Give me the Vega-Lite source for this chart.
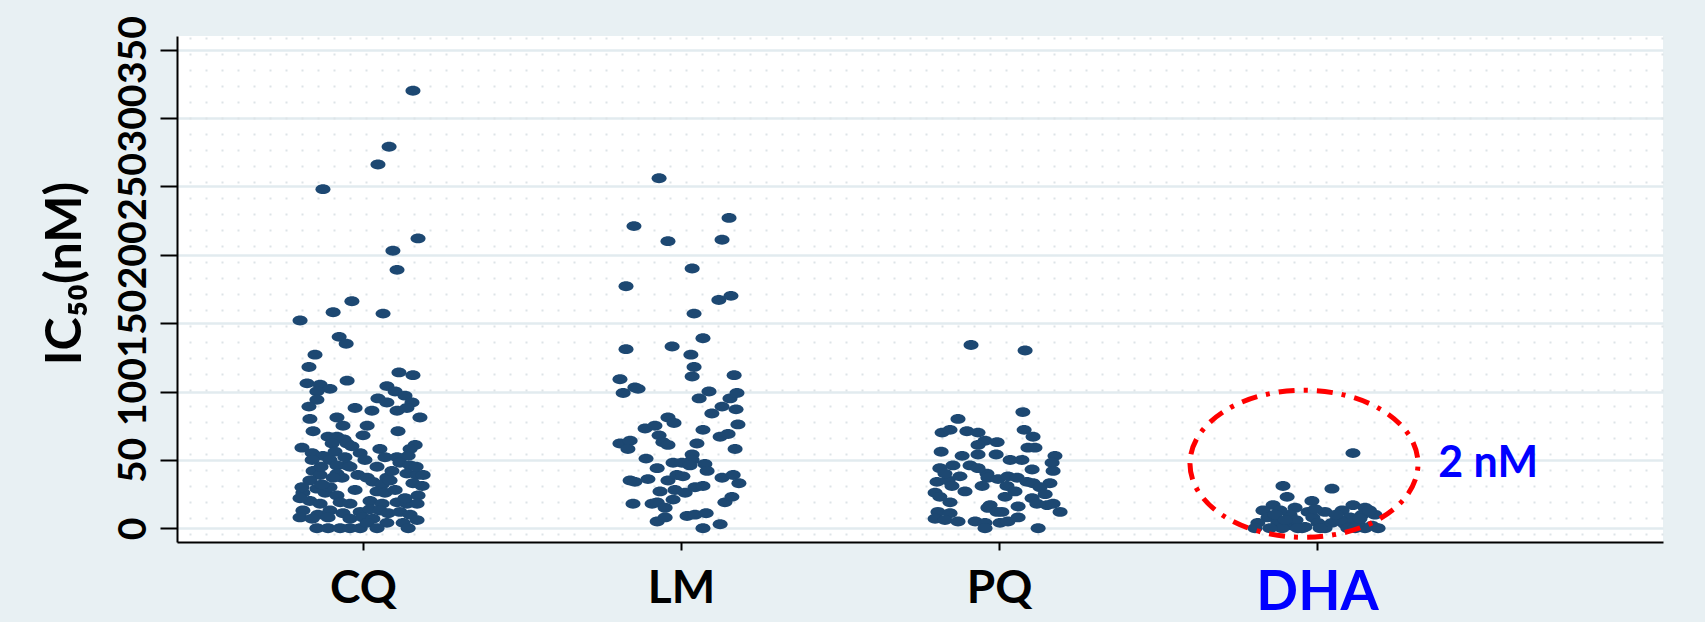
{
  "$schema": "https://vega.github.io/schema/vega-lite/v6.json",
  "width": 1486,
  "height": 506,
  "autosize": {"type": "none"},
  "padding": {"left": 177, "top": 36, "right": 42, "bottom": 80},
  "background": "#e8f0f3",
  "config": {"view": {"fill": "white", "stroke": null}, "font": "Lato"},
  "datasets": {
    "pts": [
      {"drug":"CQ","x":1.157,"ic50":320},{"drug":"CQ","x":1.082,"ic50":279},{"drug":"CQ","x":1.047,"ic50":266},{"drug":"CQ","x":0.874,"ic50":248},
      {"drug":"CQ","x":1.173,"ic50":212},{"drug":"CQ","x":1.094,"ic50":203},{"drug":"CQ","x":1.107,"ic50":189},{"drug":"CQ","x":0.965,"ic50":166},
      {"drug":"CQ","x":0.906,"ic50":158},{"drug":"CQ","x":1.063,"ic50":157},{"drug":"CQ","x":0.802,"ic50":152},{"drug":"CQ","x":0.925,"ic50":140},
      {"drug":"CQ","x":0.947,"ic50":135},{"drug":"CQ","x":0.849,"ic50":127},{"drug":"CQ","x":0.830,"ic50":118},{"drug":"CQ","x":1.157,"ic50":112},
      {"drug":"CQ","x":1.113,"ic50":114},{"drug":"CQ","x":0.950,"ic50":108},{"drug":"CQ","x":0.824,"ic50":106},{"drug":"CQ","x":0.865,"ic50":105},
      {"drug":"CQ","x":0.896,"ic50":102},{"drug":"CQ","x":1.075,"ic50":104},{"drug":"CQ","x":0.855,"ic50":100},{"drug":"CQ","x":1.101,"ic50":100},
      {"drug":"CQ","x":1.132,"ic50":97},{"drug":"CQ","x":0.855,"ic50":94},{"drug":"CQ","x":1.047,"ic50":95},{"drug":"CQ","x":1.075,"ic50":92},
      {"drug":"CQ","x":1.154,"ic50":92},{"drug":"CQ","x":0.830,"ic50":89},{"drug":"CQ","x":0.975,"ic50":88},{"drug":"CQ","x":1.028,"ic50":86},
      {"drug":"CQ","x":1.107,"ic50":86},{"drug":"CQ","x":1.138,"ic50":88},{"drug":"CQ","x":0.833,"ic50":80},{"drug":"CQ","x":0.918,"ic50":81},
      {"drug":"CQ","x":1.179,"ic50":81},{"drug":"CQ","x":0.937,"ic50":75},{"drug":"CQ","x":1.013,"ic50":75},{"drug":"CQ","x":1.000,"ic50":68},
      {"drug":"CQ","x":0.843,"ic50":71},{"drug":"CQ","x":1.110,"ic50":71},{"drug":"CQ","x":0.890,"ic50":67},{"drug":"CQ","x":0.918,"ic50":67},
      {"drug":"CQ","x":0.940,"ic50":65},{"drug":"CQ","x":0.903,"ic50":62},{"drug":"CQ","x":0.950,"ic50":62},{"drug":"CQ","x":0.808,"ic50":59},
      {"drug":"CQ","x":0.965,"ic50":60},{"drug":"CQ","x":1.053,"ic50":58},{"drug":"CQ","x":1.164,"ic50":61},{"drug":"CQ","x":1.148,"ic50":58},
      {"drug":"CQ","x":0.840,"ic50":55},{"drug":"CQ","x":0.874,"ic50":53},{"drug":"CQ","x":0.912,"ic50":56},{"drug":"CQ","x":0.991,"ic50":55},
      {"drug":"CQ","x":1.069,"ic50":52},{"drug":"CQ","x":1.107,"ic50":52},{"drug":"CQ","x":1.142,"ic50":53},{"drug":"CQ","x":0.840,"ic50":50},
      {"drug":"CQ","x":0.896,"ic50":50},{"drug":"CQ","x":0.943,"ic50":52},{"drug":"CQ","x":0.950,"ic50":46},{"drug":"CQ","x":0.918,"ic50":46},
      {"drug":"CQ","x":1.044,"ic50":45},{"drug":"CQ","x":1.116,"ic50":48},{"drug":"CQ","x":1.148,"ic50":46},{"drug":"CQ","x":0.843,"ic50":42},
      {"drug":"CQ","x":0.865,"ic50":39},{"drug":"CQ","x":0.918,"ic50":40},{"drug":"CQ","x":0.934,"ic50":37},{"drug":"CQ","x":0.984,"ic50":39},
      {"drug":"CQ","x":1.013,"ic50":37},{"drug":"CQ","x":1.075,"ic50":37},{"drug":"CQ","x":1.138,"ic50":40},{"drug":"CQ","x":1.170,"ic50":39},
      {"drug":"CQ","x":1.189,"ic50":39},{"drug":"CQ","x":0.833,"ic50":35},{"drug":"CQ","x":0.906,"ic50":37},{"drug":"CQ","x":1.031,"ic50":34},
      {"drug":"CQ","x":1.060,"ic50":32},{"drug":"CQ","x":1.085,"ic50":35},{"drug":"CQ","x":1.157,"ic50":33},{"drug":"CQ","x":1.186,"ic50":31},
      {"drug":"CQ","x":0.855,"ic50":29},{"drug":"CQ","x":0.811,"ic50":26},{"drug":"CQ","x":0.881,"ic50":26},{"drug":"CQ","x":0.918,"ic50":24},
      {"drug":"CQ","x":1.044,"ic50":27},{"drug":"CQ","x":1.069,"ic50":26},{"drug":"CQ","x":1.173,"ic50":24},{"drug":"CQ","x":0.833,"ic50":20},
      {"drug":"CQ","x":0.865,"ic50":18},{"drug":"CQ","x":0.928,"ic50":19},{"drug":"CQ","x":0.959,"ic50":18},{"drug":"CQ","x":1.022,"ic50":20},
      {"drug":"CQ","x":1.060,"ic50":18},{"drug":"CQ","x":1.107,"ic50":19},{"drug":"CQ","x":1.138,"ic50":18},{"drug":"CQ","x":1.170,"ic50":18},
      {"drug":"CQ","x":0.811,"ic50":13},{"drug":"CQ","x":0.858,"ic50":10},{"drug":"CQ","x":0.896,"ic50":13},{"drug":"CQ","x":0.937,"ic50":11},
      {"drug":"CQ","x":0.991,"ic50":12},{"drug":"CQ","x":1.022,"ic50":14},{"drug":"CQ","x":1.053,"ic50":13},{"drug":"CQ","x":1.079,"ic50":11},
      {"drug":"CQ","x":1.116,"ic50":12},{"drug":"CQ","x":1.148,"ic50":10},{"drug":"CQ","x":0.802,"ic50":8},{"drug":"CQ","x":0.840,"ic50":7},
      {"drug":"CQ","x":0.890,"ic50":8},{"drug":"CQ","x":0.959,"ic50":7},{"drug":"CQ","x":1.000,"ic50":8},{"drug":"CQ","x":1.031,"ic50":7},
      {"drug":"CQ","x":1.075,"ic50":4},{"drug":"CQ","x":1.126,"ic50":4},{"drug":"CQ","x":1.170,"ic50":6},{"drug":"CQ","x":0.855,"ic50":0},
      {"drug":"CQ","x":0.890,"ic50":0},{"drug":"CQ","x":0.928,"ic50":0},{"drug":"CQ","x":0.959,"ic50":0},{"drug":"CQ","x":0.991,"ic50":0},
      {"drug":"CQ","x":1.013,"ic50":4},{"drug":"CQ","x":1.044,"ic50":0},{"drug":"CQ","x":1.142,"ic50":0},{"drug":"CQ","x":0.808,"ic50":30},
      {"drug":"CQ","x":0.975,"ic50":28},{"drug":"CQ","x":1.101,"ic50":28},{"drug":"CQ","x":1.132,"ic50":22},{"drug":"CQ","x":0.896,"ic50":30},
      {"drug":"CQ","x":0.959,"ic50":45},{"drug":"CQ","x":1.006,"ic50":50},{"drug":"CQ","x":0.868,"ic50":45},{"drug":"CQ","x":1.091,"ic50":42},
      {"drug":"CQ","x":1.167,"ic50":45},{"drug":"CQ","x":0.802,"ic50":22},{"drug":"CQ","x":0.871,"ic50":32},
      {"drug":"LM","x":1.931,"ic50":256},{"drug":"LM","x":2.151,"ic50":227},{"drug":"LM","x":1.852,"ic50":221},{"drug":"LM","x":1.959,"ic50":210},
      {"drug":"LM","x":2.129,"ic50":211},{"drug":"LM","x":2.035,"ic50":190},{"drug":"LM","x":1.827,"ic50":177},{"drug":"LM","x":2.119,"ic50":167},
      {"drug":"LM","x":2.157,"ic50":170},{"drug":"LM","x":2.041,"ic50":157},{"drug":"LM","x":2.069,"ic50":139},{"drug":"LM","x":1.827,"ic50":131},
      {"drug":"LM","x":1.972,"ic50":133},{"drug":"LM","x":2.031,"ic50":127},{"drug":"LM","x":2.041,"ic50":118},{"drug":"LM","x":2.035,"ic50":111},
      {"drug":"LM","x":2.167,"ic50":112},{"drug":"LM","x":1.808,"ic50":109},{"drug":"LM","x":1.855,"ic50":103},{"drug":"LM","x":1.865,"ic50":102},
      {"drug":"LM","x":1.818,"ic50":99},{"drug":"LM","x":2.088,"ic50":100},{"drug":"LM","x":2.057,"ic50":95},{"drug":"LM","x":2.154,"ic50":95},
      {"drug":"LM","x":2.176,"ic50":99},{"drug":"LM","x":2.129,"ic50":89},{"drug":"LM","x":2.173,"ic50":87},{"drug":"LM","x":2.097,"ic50":84},
      {"drug":"LM","x":1.959,"ic50":81},{"drug":"LM","x":1.978,"ic50":77},{"drug":"LM","x":2.179,"ic50":76},{"drug":"LM","x":1.887,"ic50":73},
      {"drug":"LM","x":1.918,"ic50":75},{"drug":"LM","x":2.069,"ic50":72},{"drug":"LM","x":2.123,"ic50":67},{"drug":"LM","x":2.148,"ic50":69},
      {"drug":"LM","x":1.808,"ic50":62},{"drug":"LM","x":1.840,"ic50":64},{"drug":"LM","x":1.833,"ic50":58},{"drug":"LM","x":1.931,"ic50":68},
      {"drug":"LM","x":1.943,"ic50":63},{"drug":"LM","x":1.959,"ic50":61},{"drug":"LM","x":2.050,"ic50":62},{"drug":"LM","x":2.170,"ic50":58},
      {"drug":"LM","x":1.890,"ic50":51},{"drug":"LM","x":2.035,"ic50":54},{"drug":"LM","x":2.035,"ic50":50},{"drug":"LM","x":1.925,"ic50":44},
      {"drug":"LM","x":1.975,"ic50":48},{"drug":"LM","x":2.003,"ic50":48},{"drug":"LM","x":2.028,"ic50":46},{"drug":"LM","x":2.075,"ic50":47},
      {"drug":"LM","x":2.082,"ic50":42},{"drug":"LM","x":1.840,"ic50":35},{"drug":"LM","x":1.855,"ic50":34},{"drug":"LM","x":1.896,"ic50":36},
      {"drug":"LM","x":1.959,"ic50":35},{"drug":"LM","x":1.987,"ic50":39},{"drug":"LM","x":2.006,"ic50":38},{"drug":"LM","x":2.129,"ic50":37},
      {"drug":"LM","x":2.164,"ic50":39},{"drug":"LM","x":2.182,"ic50":33},{"drug":"LM","x":1.934,"ic50":27},{"drug":"LM","x":1.981,"ic50":28},
      {"drug":"LM","x":2.013,"ic50":26},{"drug":"LM","x":2.044,"ic50":30},{"drug":"LM","x":2.069,"ic50":31},{"drug":"LM","x":1.975,"ic50":21},
      {"drug":"LM","x":1.849,"ic50":18},{"drug":"LM","x":1.909,"ic50":18},{"drug":"LM","x":1.925,"ic50":19},{"drug":"LM","x":2.138,"ic50":19},
      {"drug":"LM","x":2.160,"ic50":23},{"drug":"LM","x":1.950,"ic50":15},{"drug":"LM","x":1.925,"ic50":5},{"drug":"LM","x":1.950,"ic50":8},
      {"drug":"LM","x":2.019,"ic50":9},{"drug":"LM","x":2.044,"ic50":10},{"drug":"LM","x":2.079,"ic50":11},{"drug":"LM","x":2.069,"ic50":0},
      {"drug":"LM","x":2.123,"ic50":3},
      {"drug":"PQ","x":2.912,"ic50":134},{"drug":"PQ","x":3.082,"ic50":130},{"drug":"PQ","x":3.075,"ic50":85},{"drug":"PQ","x":2.871,"ic50":80},
      {"drug":"PQ","x":2.821,"ic50":70},{"drug":"PQ","x":2.846,"ic50":72},{"drug":"PQ","x":2.899,"ic50":71},{"drug":"PQ","x":2.934,"ic50":70},
      {"drug":"PQ","x":3.079,"ic50":72},{"drug":"PQ","x":3.107,"ic50":67},{"drug":"PQ","x":2.956,"ic50":64},{"drug":"PQ","x":2.994,"ic50":63},
      {"drug":"PQ","x":2.934,"ic50":61},{"drug":"PQ","x":3.091,"ic50":59},{"drug":"PQ","x":3.113,"ic50":59},{"drug":"PQ","x":2.818,"ic50":56},
      {"drug":"PQ","x":2.884,"ic50":53},{"drug":"PQ","x":2.934,"ic50":54},{"drug":"PQ","x":2.991,"ic50":54},{"drug":"PQ","x":3.176,"ic50":53},
      {"drug":"PQ","x":3.035,"ic50":50},{"drug":"PQ","x":3.072,"ic50":50},{"drug":"PQ","x":2.814,"ic50":44},{"drug":"PQ","x":2.855,"ic50":46},
      {"drug":"PQ","x":2.909,"ic50":46},{"drug":"PQ","x":3.167,"ic50":48},{"drug":"PQ","x":3.170,"ic50":42},{"drug":"PQ","x":2.962,"ic50":40},
      {"drug":"PQ","x":2.934,"ic50":44},{"drug":"PQ","x":3.104,"ic50":43},{"drug":"PQ","x":2.805,"ic50":34},{"drug":"PQ","x":2.840,"ic50":35},
      {"drug":"PQ","x":2.852,"ic50":31},{"drug":"PQ","x":2.965,"ic50":37},{"drug":"PQ","x":2.997,"ic50":36},{"drug":"PQ","x":3.028,"ic50":38},
      {"drug":"PQ","x":3.057,"ic50":37},{"drug":"PQ","x":2.947,"ic50":31},{"drug":"PQ","x":3.025,"ic50":31},{"drug":"PQ","x":3.088,"ic50":34},
      {"drug":"PQ","x":3.107,"ic50":33},{"drug":"PQ","x":3.160,"ic50":33},{"drug":"PQ","x":2.799,"ic50":26},{"drug":"PQ","x":2.814,"ic50":23},
      {"drug":"PQ","x":3.019,"ic50":23},{"drug":"PQ","x":3.104,"ic50":22},{"drug":"PQ","x":2.846,"ic50":19},{"drug":"PQ","x":2.972,"ic50":17},
      {"drug":"PQ","x":2.965,"ic50":15},{"drug":"PQ","x":3.060,"ic50":16},{"drug":"PQ","x":3.119,"ic50":18},{"drug":"PQ","x":3.151,"ic50":17},
      {"drug":"PQ","x":3.170,"ic50":18},{"drug":"PQ","x":3.192,"ic50":12},{"drug":"PQ","x":2.808,"ic50":12},{"drug":"PQ","x":2.846,"ic50":11},
      {"drug":"PQ","x":2.994,"ic50":12},{"drug":"PQ","x":3.009,"ic50":12},{"drug":"PQ","x":2.799,"ic50":7},{"drug":"PQ","x":2.830,"ic50":6},
      {"drug":"PQ","x":2.871,"ic50":5},{"drug":"PQ","x":2.925,"ic50":5},{"drug":"PQ","x":2.956,"ic50":4},{"drug":"PQ","x":3.003,"ic50":4},
      {"drug":"PQ","x":3.028,"ic50":5},{"drug":"PQ","x":3.060,"ic50":8},{"drug":"PQ","x":2.956,"ic50":0},{"drug":"PQ","x":3.123,"ic50":0},
      {"drug":"PQ","x":2.830,"ic50":40},{"drug":"PQ","x":2.877,"ic50":38},{"drug":"PQ","x":3.129,"ic50":30},{"drug":"PQ","x":3.145,"ic50":25},
      {"drug":"PQ","x":3.050,"ic50":27},{"drug":"PQ","x":2.893,"ic50":27},
      {"drug":"DHA","x":4.113,"ic50":55},{"drug":"DHA","x":3.893,"ic50":31},{"drug":"DHA","x":3.906,"ic50":23},{"drug":"DHA","x":4.047,"ic50":29},
      {"drug":"DHA","x":3.984,"ic50":20},{"drug":"DHA","x":3.862,"ic50":17},{"drug":"DHA","x":3.830,"ic50":13},{"drug":"DHA","x":3.846,"ic50":8},
      {"drug":"DHA","x":3.814,"ic50":4},{"drug":"DHA","x":3.931,"ic50":15},{"drug":"DHA","x":3.972,"ic50":12},{"drug":"DHA","x":3.987,"ic50":8},
      {"drug":"DHA","x":4.025,"ic50":12},{"drug":"DHA","x":4.079,"ic50":13},{"drug":"DHA","x":4.113,"ic50":17},{"drug":"DHA","x":4.151,"ic50":15},
      {"drug":"DHA","x":4.182,"ic50":10},{"drug":"DHA","x":3.877,"ic50":4},{"drug":"DHA","x":3.921,"ic50":2},{"drug":"DHA","x":3.962,"ic50":1},
      {"drug":"DHA","x":4.003,"ic50":4},{"drug":"DHA","x":4.047,"ic50":4},{"drug":"DHA","x":4.088,"ic50":3},{"drug":"DHA","x":4.129,"ic50":4},
      {"drug":"DHA","x":4.173,"ic50":2},{"drug":"DHA","x":4.192,"ic50":0},{"drug":"DHA","x":3.805,"ic50":0},{"drug":"DHA","x":3.890,"ic50":0},
      {"drug":"DHA","x":3.953,"ic50":0},{"drug":"DHA","x":4.025,"ic50":0},{"drug":"DHA","x":4.097,"ic50":0},{"drug":"DHA","x":4.151,"ic50":0},
      {"drug":"DHA","x":3.852,"ic50":0},{"drug":"DHA","x":3.915,"ic50":10},{"drug":"DHA","x":4.104,"ic50":8},{"drug":"DHA","x":4.142,"ic50":10},
      {"drug":"DHA","x":3.884,"ic50":13},{"drug":"DHA","x":4.072,"ic50":6},{"drug":"DHA","x":3.934,"ic50":6},{"drug":"DHA","x":3.994,"ic50":14},
      {"drug":"DHA","x":4.060,"ic50":10},{"drug":"DHA","x":4.135,"ic50":7},{"drug":"DHA","x":3.868,"ic50":10},{"drug":"DHA","x":4.010,"ic50":0},
      {"drug":"DHA","x":4.120,"ic50":0},{"drug":"DHA","x":3.940,"ic50":0},{"drug":"DHA","x":4.165,"ic50":13},{"drug":"DHA","x":3.900,"ic50":6}
    ],
    "ann": [{"x": 3.959, "ic50": 47.2, "label": "2 nM", "tx": 4.538}]
  },
  "layer": [
    {
      "data": {"name": "pts"},
      "mark": {"type": "point", "filled": true, "opacity": 1, "color": "#1d4872", "size": 225,
               "shape": "M-1,0A1,0.66 0 1,0 1,0A1,0.66 0 1,0 -1,0Z"},
      "encoding": {
        "x": {"field": "x", "type": "quantitative",
              "scale": {"domain": [0.415, 5.088], "nice": false, "zero": false},
              "axis": {"values": [1, 2, 3, 4], "title": null, "grid": false,
                       "labelExpr": "['', 'CQ', 'LM', 'PQ', 'DHA'][datum.value]",
                       "domainColor": "black", "domainWidth": 2, "tickColor": "black", "tickWidth": 2, "tickSize": 8,
                       "labelFont": "Lato", "labelFontWeight": "bold",
                       "labelFontSize": {"condition": {"test": "datum.value == 4", "value": 55}, "value": 46},
                       "labelColor": {"condition": {"test": "datum.value == 4", "value": "#0000ff"}, "value": "black"},
                       "labelPadding": 16, "labelOverlap": false, "labelFlush": false}},
        "y": {"field": "ic50", "type": "quantitative",
              "scale": {"domain": [-10, 360], "nice": false, "zero": false},
              "axis": {"values": [0, 50, 100, 150, 200, 250, 300, 350], "title": "IC₅₀(nM)",
                       "grid": true, "gridColor": "#e2ebef", "gridWidth": 2.5,
                       "domainColor": "black", "domainWidth": 2, "tickColor": "black", "tickWidth": 2, "tickSize": 17,
                       "labelAngle": 270, "labelAlign": "center", "labelBaseline": "bottom",
                       "labelFont": "Lato", "labelFontWeight": "bold", "labelFontSize": 39, "labelColor": "black",
                       "labelPadding": 7, "labelOverlap": false, "labelFlush": false,
                       "titleFont": "Lato", "titleFontWeight": "bold", "titleFontSize": 50, "titleColor": "black",
                       "titlePadding": 24, "titleY": 237}}
      }
    },
    {
      "data": {"name": "ann"},
      "mark": {"type": "point", "filled": false, "opacity": 1, "stroke": "#ff0000", "strokeWidth": 5,
               "strokeDash": [16, 9, 4, 9], "size": 51984,
               "shape": "M-1,0A1,0.645 0 1,0 1,0A1,0.645 0 1,0 -1,0Z"},
      "encoding": {
        "x": {"field": "x", "type": "quantitative", "axis": null},
        "y": {"field": "ic50", "type": "quantitative",
              "axis": {"orient": "right", "title": null, "labels": false, "ticks": false, "domain": false,
                       "grid": true, "gridColor": "#dde4e7", "gridWidth": 2, "gridDash": [2, 14],
                       "values": [358.5, 346.8, 335.1, 323.4, 311.7, 300, 288.3, 276.6, 264.9, 253.2, 241.5, 229.8, 218.1, 206.4, 194.7, 183, 171.3, 159.6, 147.9, 136.2, 124.5, 112.8, 101.1, 89.4, 77.7, 66, 54.3, 42.6, 30.9, 19.2, 7.5, -4.2]}}
      }
    },
    {
      "data": {"name": "ann"},
      "mark": {"type": "text", "color": "#0000ff", "font": "Lato", "fontWeight": "bold", "fontSize": 43,
               "align": "center", "baseline": "middle"},
      "encoding": {
        "x": {"field": "tx", "type": "quantitative", "axis": null},
        "y": {"field": "ic50", "type": "quantitative", "axis": null},
        "text": {"field": "label"}
      }
    }
  ],
  "resolve": {"axis": {"y": "independent", "x": "independent"}}
}
